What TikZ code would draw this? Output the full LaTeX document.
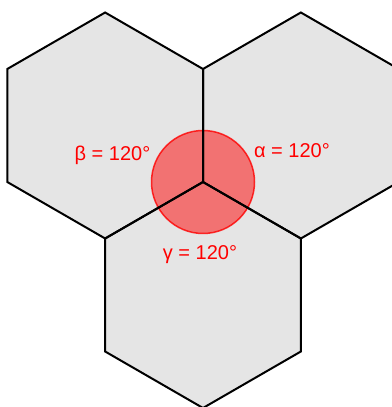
\documentclass[tikz,border=0pt]{standalone}
\usepackage{fontspec}
\setmainfont{Liberation Sans}
\usepackage{xcolor}
\definecolor{hex_gray}{HTML}{E5E5E5}
\usetikzlibrary{calc}
\tikzset{HEXFILL/.style={fill=hex_gray}}
\tikzset{HEXLINE/.style={draw=black, line width=2pt, line join=miter}}
\tikzset{ANGLE/.style={circle, minimum size=103pt, inner sep=0pt, fill=red, fill opacity=0.5, draw=red, draw opacity=0.8, line width=1.5pt}}
\tikzset{LABEL/.style={text=red, font=\fontsize{20}{24}\selectfont, anchor=base, inner sep=0pt}}

\begin{document}
\begin{tikzpicture}[x=1pt,y=1pt]

\useasboundingbox (0,0) rectangle (391,407);

\coordinate (c_center) at (203,225);
\coordinate (c_hex_left) at ($(c_center)+(150:113)$);
\coordinate (c_hex_right) at ($(c_center)+(30:113)$);
\coordinate (c_hex_bottom) at ($(c_center)+(270:113)$);

% grey cells
\foreach \h in {left,right,bottom}{
  \fill[HEXFILL] ($(c_hex_\h)+(30:113)$) \foreach \k in {1,...,5}{ -- ($(c_hex_\h)+(30+60*\k:113)$)} -- cycle;
}

\node[ANGLE] (n_angle) at (c_center) {};

% cell borders
\foreach \h in {left,right,bottom}{
  \draw[HEXLINE] ($(c_hex_\h)+(30:113)$) \foreach \k in {1,...,5}{ -- ($(c_hex_\h)+(30+60*\k:113)$)} -- cycle;
}

\node[LABEL] (n_beta) at (112.5,246.5) {β = 120°};
\node[LABEL] (n_alpha) at (292,249.3) {α = 120°};
\node[LABEL] (n_gamma) at (200,147) {γ = 120°};

\end{tikzpicture}
\end{document}
